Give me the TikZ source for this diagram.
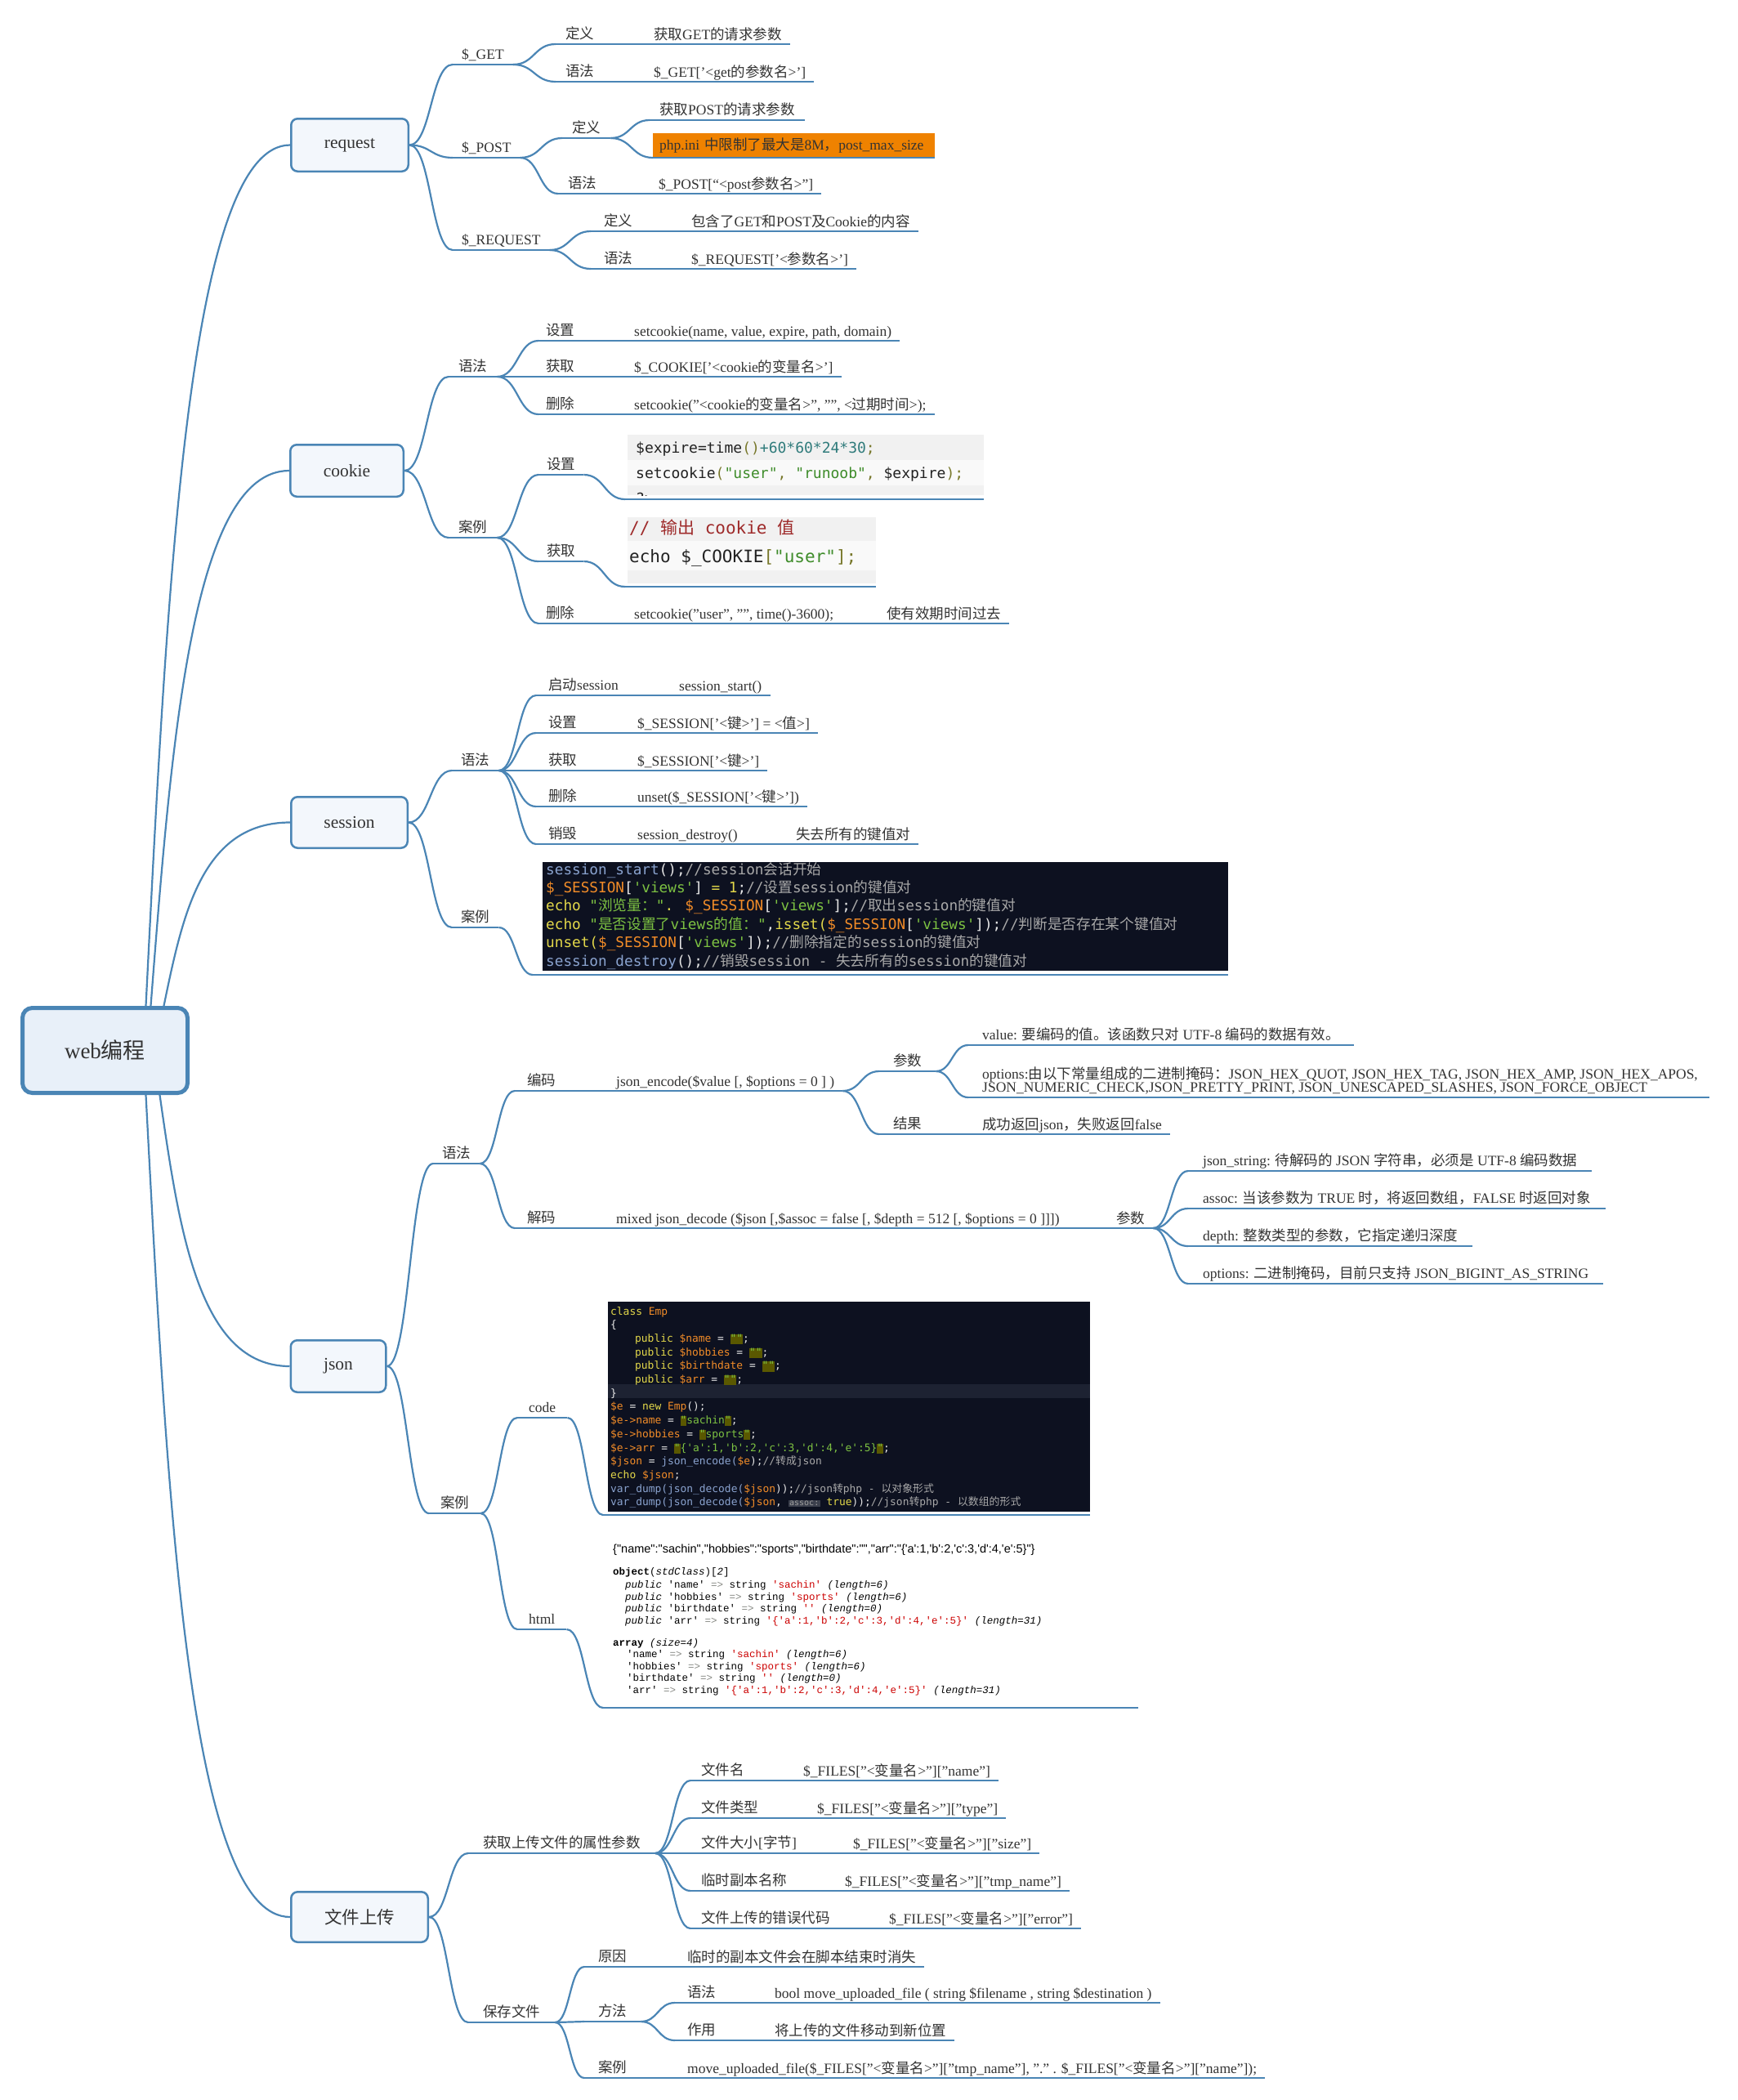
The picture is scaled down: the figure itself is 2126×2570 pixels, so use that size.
\documentclass[tikz,border=0pt]{standalone}
\usepackage{fontspec}
\setmainfont{Liberation Serif}
\newfontfamily\cjkfont{Noto Sans CJK SC}
\newfontfamily\codefont{DejaVu Sans Mono}
\newfontfamily\htmlmono{Liberation Mono}
\newfontfamily\htmlsans{Liberation Sans}
\usetikzlibrary{calc}
\pgfdeclarelayer{bg}
\pgfsetlayers{bg,main}
\makeatletter
\XeTeXinterchartokenstate=1
\newXeTeXintercharclass\mmcjkclass
\count@="3000 \loop\ifnum\count@<"3040 \XeTeXcharclass\count@=\mmcjkclass \advance\count@ 1 \repeat
\count@="4E00 \loop\ifnum\count@<"A000 \XeTeXcharclass\count@=\mmcjkclass \advance\count@ 1 \repeat
\count@="FF00 \loop\ifnum\count@<"FFF0 \XeTeXcharclass\count@=\mmcjkclass \advance\count@ 1 \repeat
\XeTeXcharclass"201C=0 \XeTeXcharclass"201D=0 \XeTeXcharclass"2018=0 \XeTeXcharclass"2019=0
\XeTeXinterchartoks 0 \mmcjkclass={\begingroup\cjkfont}
\XeTeXinterchartoks 4095 \mmcjkclass={\begingroup\cjkfont}
\XeTeXinterchartoks \mmcjkclass 0={\endgroup}
\XeTeXinterchartoks \mmcjkclass 4095={\endgroup}
\makeatother
\definecolor{ln}{HTML}{4A85B5}
\definecolor{tx}{HTML}{333333}
\definecolor{boxf}{HTML}{F3F7FC}
\definecolor{rootf}{HTML}{E8F0F9}
\definecolor{orangeF}{HTML}{EF8200}
\definecolor{cband}{HTML}{F1F1F1}
\definecolor{cfill}{HTML}{F9F9F9}
\definecolor{cblack}{HTML}{222222}
\definecolor{colive}{HTML}{77772A}
\definecolor{cteal}{HTML}{2F7B7B}
\definecolor{cgreen}{HTML}{3E8C2A}
\definecolor{cred}{HTML}{9E2A2A}
\definecolor{sbg}{HTML}{0D1120}
\definecolor{sband}{HTML}{1D2232}
\definecolor{sblue}{HTML}{8AA3CF}
\definecolor{swhite}{HTML}{E6E6E6}
\definecolor{sgray}{HTML}{A8A8A8}
\definecolor{sorange}{HTML}{F28C28}
\definecolor{sgreen}{HTML}{7DC242}
\definecolor{syellow}{HTML}{E3D84A}
\definecolor{jolive}{HTML}{5A5800}
\definecolor{pillbg}{HTML}{3B3F4C}
\definecolor{pilltx}{HTML}{A0A0A0}
\definecolor{hred}{HTML}{CC0000}
\definecolor{hgray}{HTML}{888A85}
\newcommand\mmlblfont{\fontsize{17.5}{21}\selectfont}
\newcommand\mmboxfont{\fontsize{21.5}{24}\selectfont}
\newcommand\cBl[1]{\textcolor{sblue}{#1}}
\newcommand\cWh[1]{\textcolor{swhite}{#1}}
\newcommand\cGy[1]{\textcolor{sgray}{#1}}
\newcommand\cOr[1]{\textcolor{sorange}{#1}}
\newcommand\cGn[1]{\textcolor{sgreen}{#1}}
\newcommand\cYe[1]{\textcolor{syellow}{#1}}
\newcommand\hlq[1]{{\setlength{\fboxsep}{0pt}\colorbox{jolive}{\vphantom{Ag}\textcolor{sgreen}{#1}}}}
\newcommand\pill[1]{{\setlength{\fboxsep}{1.5pt}\colorbox{pillbg}{\fontsize{10}{10}\selectfont\textcolor{pilltx}{#1}}}}
\tikzset{
  ul/.style={draw=ln, line width=2.2pt},
  conn/.style={draw=ln, line width=2.2pt},
  lab/.style={anchor=south west, inner ysep=6pt, text depth=0pt, font=\mmlblfont, text=tx},
  val/.style={anchor=base west, inner sep=0pt, font=\mmlblfont, text=tx},
  l1box/.style={draw=ln, line width=2.5pt, fill=boxf, rounded corners=8pt, font=\mmboxfont, text=tx, inner sep=0pt},
  rootbox/.style={draw=ln, line width=5pt, fill=rootf, rounded corners=12pt, font=\fontsize{27}{27}\selectfont, text=tx, inner sep=0pt, minimum width=202, minimum height=104},
  cbox/.style={anchor=north west, inner sep=0pt},
  cline/.style={anchor=base west, inner sep=0pt},
  sc/.style={to path={let \p1=(\tikztostart), \p2=(\tikztotarget) in
     .. controls ({0.5*(\x1+\x2)},\y1) and ({0.5*(\x1+\x2)},\y2) .. (\tikztotarget)}},
  rc/.style={to path={let \p1=(\tikztostart), \p2=(\tikztotarget) in
     .. controls ({\x1+0.15*(\x2-\x1)},{\y1+0.5*(\y2-\y1)}) and ({\x1+0.3*(\x2-\x1)},\y2) .. (\tikztotarget)}},
}
% label with its own underline
\newcommand\mmlab[5][11]{%
  \node[lab, inner xsep=#1pt] (#2) at (#3,#4) {#5};
  \coordinate (#2-e) at (#2.south east);
  \draw[ul] (#2.south west) -- (#2-e);}
% label + value on one underline
\newcommand\mmrow[7][11]{%
  \node[lab, inner xsep=#1pt] (#2) at (#3,#4) {#5};
  \node[val] (#2-v) at (#6,#4-6) {#7};
  \coordinate (#2-e) at ($(#2-v.base east)+(10,6)$);
  \draw[ul] (#2.south west) -- (#2-e);}
% third part on the same underline
\newcommand\mmext[4]{%
  \node[val] (#1-w) at (#2,#3-6) {#4};
  \coordinate (#1-f) at ($(#1-w.base east)+(10,6)$);
  \draw[ul] (#1-e) -- (#1-f);}
\begin{document}
\begin{tikzpicture}[x=1pt,y=-1pt]
\useasboundingbox (0,0) rectangle (2126,2570);
\begin{pgfonlayer}{bg}\fill[white] (0,0) rectangle (2126,2570);\end{pgfonlayer}

% ---------- main boxes
\node[rootbox] (root) at (128.5,1285.5) {web编程};
\node[l1box, minimum width=143.5, minimum height=64.5] (req) at (428,177.5) {request};
\node[l1box, minimum width=138.5, minimum height=63.5] (cookie) at (424.5,576) {cookie};
\node[l1box, minimum width=142.5, minimum height=62.5] (session) at (427.5,1006.5) {session};
\node[l1box, minimum width=116.5, minimum height=63.5] (json) at (414,1672) {json};
\node[l1box, minimum width=167.5, minimum height=61.5] (upload) at (440,2346) {文件上传};

% ---------- request
\mmlab{get}{554}{79}{\$\_GET}
\mmrow[12]{getd}{680}{54}{定义}{800}{获取GET的请求参数}
\mmrow[12]{gets}{680}{100}{语法}{800}{\$\_GET['<get的参数名>']}
\mmlab{post}{554}{193}{\$\_POST}
\mmlab[12]{postd}{688}{169}{定义}
\mmlab[12]{postda}{795}{147}{获取POST的请求参数}
\node[anchor=south west, fill=orangeF, text width=329pt, align=left, minimum height=30, inner xsep=8pt, inner ysep=0pt, font=\mmlblfont, text=tx] (php) at (799,193) {php.ini 中限制了最大是8M，post\_max\_size};
\draw[ul] (php.south west) -- (php.south east);
\mmrow[12]{posts}{683}{237}{语法}{806}{\$\_POST[“<post参数名>”]}
\mmlab{reqs}{554}{306}{\$\_REQUEST}
\mmrow[16]{reqsd}{723}{283}{定义}{846}{包含了GET和POST及Cookie的内容}
\mmrow[16]{reqss}{723}{329}{语法}{846}{\$\_REQUEST['<参数名>']}

% ---------- cookie
\mmlab[12]{cks}{549}{461}{语法}
\mmrow[9]{ckset}{659}{417}{设置}{776}{setcookie(name, value, expire, path, domain)}
\mmrow[9]{ckget}{659}{461}{获取}{776}{\$\_COOKIE['<cookie的变量名>']}
\mmrow[9]{ckdel}{659}{507}{删除}{776}{setcookie("<cookie的变量名>", "", <过期时间>);}
\mmlab[12]{ckx}{549}{658}{案例}
\mmlab[10]{ckxs}{659}{581}{设置}
\mmlab[10]{ckxg}{659}{687}{获取}
\mmrow[9]{ckxd}{659}{763}{删除}{776}{setcookie("user", "", time()-3600);}
\mmext{ckxd}{1085}{763}{使有效期时间过去}

% cookie code 1
\node[cbox, fill=cfill, minimum width=436, minimum height=74] (cd1) at (768,532) {};
\fill[cband] (cd1.north west) rectangle ($(cd1.north east)+(0,31)$);
\fill[cband] ($(cd1.south west)+(0,-12)$) rectangle (cd1.south east);
\node[cline, font=\codefont\fontsize{18}{18}\selectfont] (cd1a) at (778,554) {\textcolor{cblack}{\$expire=time}\textcolor{colive}{()}\textcolor{cteal}{+60*60*24*30}\textcolor{colive}{;}};
\node[cline, font=\codefont\fontsize{18}{18}\selectfont] (cd1b) at (778,585) {\textcolor{cblack}{setcookie}\textcolor{colive}{(}\textcolor{cgreen}{"user"}\textcolor{colive}{, }\textcolor{cgreen}{"runoob"}\textcolor{colive}{, }\textcolor{cblack}{\$expire}\textcolor{colive}{);}};
\begin{scope}
\clip ($(cd1.south west)+(0,-12)$) rectangle (cd1.south east);
\node[cline, font=\codefont\fontsize{18}{18}\selectfont] (cd1c) at (778,616) {\textcolor{cblack}{?>}};
\end{scope}
\coordinate (cd1l) at (765,611);
\draw[ul] (cd1l) -- (cd1l -| cd1.east);

% cookie code 2
\node[cbox, fill=cfill, minimum width=304, minimum height=81] (cd2) at (768,633) {};
\fill[cband] (cd2.north west) rectangle ($(cd2.north east)+(0,29)$);
\fill[cband] ($(cd2.south west)+(0,-16)$) rectangle (cd2.south east);
\node[cline, font=\codefont\fontsize{21}{21}\selectfont] (cd2a) at (770,653) {\textcolor{cred}{// 输出 cookie 值}};
\node[cline, font=\codefont\fontsize{21}{21}\selectfont] (cd2b) at (770,688) {\textcolor{cblack}{echo \$\_COOKIE}\textcolor{colive}{[}\textcolor{cgreen}{"user"}\textcolor{colive}{];}};
\coordinate (cd2l) at (765,718);
\draw[ul] (cd2l) -- (cd2l -| cd2.east);

% ---------- session
\mmlab{sss}{553}{943}{语法}
\mmrow[15]{ss1}{656}{851}{启动session}{831}{session\_start()}
\mmrow[15]{ss2}{656}{897}{设置}{780}{\$\_SESSION['<键>'] = <值>]}
\mmrow[15]{ss3}{656}{943}{获取}{780}{\$\_SESSION['<键>']}
\mmrow[15]{ss4}{656}{987}{删除}{780}{unset(\$\_SESSION['<键>'])}
\mmrow[15]{ss5}{656}{1033}{销毁}{780}{session\_destroy()}
\mmext{ss5}{974}{1033}{失去所有的键值对}
\mmlab{ssx}{553}{1135}{案例}

\node[cbox, fill=sbg, minimum width=839, minimum height=133] (cd3) at (664,1055) {};
\tikzset{scode/.style={cline, font=\codefont\fontsize{17.7}{17.7}\selectfont}}
\node[scode] (s1) at (668,1070) {\cBl{session\_start}\cWh{();}\cGy{//session会话开始}};
\node[scode] (s2) at (668,1092.4) {\cOr{\$\_SESSION}\cWh{[}\cGn{'views'}\cWh{] }\cYe{= 1}\cWh{;}\cGy{//设置session的键值对}};
\node[scode] (s3) at (668,1114.8) {\cYe{echo }\cGn{"浏览量："}\cYe{ . }\cOr{\$\_SESSION}\cWh{[}\cGn{'views'}\cWh{];}\cGy{//取出session的键值对}};
\node[scode] (s4) at (668,1137.2) {\cYe{echo }\cGn{"是否设置了views的值："}\cWh{,}\cYe{isset(}\cOr{\$\_SESSION}\cWh{[}\cGn{'views'}\cWh{]);}\cGy{//判断是否存在某个键值对}};
\node[scode] (s5) at (668,1159.6) {\cYe{unset(}\cOr{\$\_SESSION}\cWh{[}\cGn{'views'}\cWh{]);}\cGy{//删除指定的session的键值对}};
\node[scode] (s6) at (668,1182) {\cBl{session\_destroy}\cWh{();}\cGy{//销毁session - 失去所有的session的键值对}};
\coordinate (cd3l) at (652,1193);
\draw[ul] (cd3l) -- (cd3l -| cd3.east);

% ---------- json
\mmlab{jss}{530}{1424}{语法}
\mmrow[15]{jse}{630}{1335}{编码}{754}{json\_encode(\$value [, \$options = 0 ] )}
\mmlab[17]{jsep}{1076}{1311}{参数}
\mmlab[17]{jsev}{1185}{1279}{value: 要编码的值。该函数只对 UTF-8 编码的数据有效。}
\node[val] (jseo1) at (1202,1320) {options:由以下常量组成的二进制掩码：JSON\_HEX\_QUOT, JSON\_HEX\_TAG, JSON\_HEX\_AMP, JSON\_HEX\_APOS,};
\node[lab, inner xsep=17pt] (jseo) at (1185,1343) {JSON\_NUMERIC\_CHECK,JSON\_PRETTY\_PRINT, JSON\_UNESCAPED\_SLASHES, JSON\_FORCE\_OBJECT};
\coordinate (jseo-e) at ($(jseo1.base east)+(14,23)$);
\draw[ul] (jseo.south west) -- (jseo-e);
\mmrow[17]{jser}{1076}{1388}{结果}{1202}{成功返回json，失败返回false}
\mmrow[15]{jsd}{630}{1503}{解码}{754}{mixed json\_decode (\$json [,\$assoc = false [, \$depth = 512 [, \$options = 0 ]]])}
\mmext{jsd}{1366}{1503}{参数}
\mmlab[18]{jsd1}{1454}{1433}{json\_string: 待解码的 JSON 字符串，必须是 UTF-8 编码数据}
\mmlab[18]{jsd2}{1454}{1479}{assoc: 当该参数为 TRUE 时，将返回数组，FALSE 时返回对象}
\mmlab[18]{jsd3}{1454}{1525}{depth: 整数类型的参数，它指定递归深度}
\mmlab[18]{jsd4}{1454}{1571}{options: 二进制掩码，目前只支持 JSON\_BIGINT\_AS\_STRING}
\mmlab[14]{jsx}{525}{1852}{案例}
\mmlab[14]{jsxc}{633}{1735}{code}
\mmlab[14]{jsxh}{633}{1994}{html}

% json code
\node[cbox, fill=sbg, minimum width=590, minimum height=257] (cd4) at (744,1593) {};
\fill[sband] (744,1694) rectangle (1334,1711);
\tikzset{jcode/.style={cline, font=\codefont\fontsize{12.9}{12.9}\selectfont}}
\node[jcode] (j1) at (747,1609) {\cYe{class} \cOr{Emp}};
\node[jcode] (j2) at (747,1625.7) {\cWh{\{}};
\node[jcode] (j3) at (777,1642.4) {\cYe{public} \cOr{\$name} \cWh{=} \hlq{""}\cWh{;}};
\node[jcode] (j4) at (777,1659.1) {\cYe{public} \cOr{\$hobbies} \cWh{=} \hlq{""}\cWh{;}};
\node[jcode] (j5) at (777,1675.8) {\cYe{public} \cOr{\$birthdate} \cWh{=} \hlq{""}\cWh{;}};
\node[jcode] (j6) at (777,1692.5) {\cYe{public} \cOr{\$arr} \cWh{=} \hlq{""}\cWh{;}};
\node[jcode] (j7) at (747,1709.2) {\cWh{\}}};
\node[jcode] (j8) at (747,1725.9) {\cOr{\$e} \cWh{=} \cYe{new} \cOr{Emp}\cWh{();}};
\node[jcode] (j9) at (747,1742.6) {\cOr{\$e->name} \cWh{=} \hlq{"}\cGn{sachin}\hlq{"}\cWh{;}};
\node[jcode] (j10) at (747,1759.3) {\cOr{\$e->hobbies} \cWh{=} \hlq{"}\cGn{sports}\hlq{"}\cWh{;}};
\node[jcode] (j11) at (747,1776) {\cOr{\$e->arr} \cWh{=} \hlq{"}\cGn{\{'a':1,'b':2,'c':3,'d':4,'e':5\}}\hlq{"}\cWh{;}};
\node[jcode] (j12) at (747,1792.7) {\cOr{\$json} \cWh{=} \cBl{json\_encode(}\cOr{\$e}\cWh{);}\cGy{//转成json}};
\node[jcode] (j13) at (747,1809.4) {\cYe{echo} \cOr{\$json}\cWh{;}};
\node[jcode] (j14) at (747,1826.1) {\cBl{var\_dump(json\_decode(}\cOr{\$json}\cWh{));}\cGy{//json转php - 以对象形式}};
\node[jcode] (j15) at (747,1842.8) {\cBl{var\_dump(json\_decode(}\cOr{\$json}\cWh{,} \pill{assoc:} \cYe{true}\cWh{));}\cGy{//json转php - 以数组的形式}};
\coordinate (cd4l) at (738,1854);
\draw[ul] (cd4l) -- (cd4l -| cd4.east);

% json html output
\node[cline, font=\htmlsans\fontsize{14.5}{14.5}\selectfont, text=black] (h0) at (750,1900) {\{"name":"sachin","hobbies":"sports","birthdate":"","arr":"\{'a':1,'b':2,'c':3,'d':4,'e':5\}"\}};
\tikzset{hcode/.style={cline, font=\htmlmono\fontsize{12.5}{12.5}\selectfont, text=black}}
\node[hcode] (h1) at (750,1927) {\textbf{object}(\textit{stdClass})[\textit{2}]};
\node[hcode] (h2) at (765,1943) {\textit{public} 'name' \textcolor{hgray}{=>} string \textcolor{hred}{'sachin'} \textit{(length=6)}};
\node[hcode] (h3) at (765,1958) {\textit{public} 'hobbies' \textcolor{hgray}{=>} string \textcolor{hred}{'sports'} \textit{(length=6)}};
\node[hcode] (h4) at (765,1972) {\textit{public} 'birthdate' \textcolor{hgray}{=>} string \textcolor{hred}{''} \textit{(length=0)}};
\node[hcode] (h5) at (765,1987) {\textit{public} 'arr' \textcolor{hgray}{=>} string \textcolor{hred}{'\{'a':1,'b':2,'c':3,'d':4,'e':5\}'} \textit{(length=31)}};
\node[hcode] (h6) at (750,2014) {\textbf{array} \textit{(size=4)}};
\node[hcode] (h7) at (767,2028) {'name' \textcolor{hgray}{=>} string \textcolor{hred}{'sachin'} \textit{(length=6)}};
\node[hcode] (h8) at (767,2043) {'hobbies' \textcolor{hgray}{=>} string \textcolor{hred}{'sports'} \textit{(length=6)}};
\node[hcode] (h9) at (767,2057) {'birthdate' \textcolor{hgray}{=>} string \textcolor{hred}{''} \textit{(length=0)}};
\node[hcode] (h10) at (767,2072) {'arr' \textcolor{hgray}{=>} string \textcolor{hred}{'\{'a':1,'b':2,'c':3,'d':4,'e':5\}'} \textit{(length=31)}};
\coordinate (htmll) at (738,2090);
\coordinate (htmlr) at (1393,2090);
\draw[ul] (htmll) -- (htmlr);

% ---------- file upload
\mmlab[18]{upa}{573}{2268}{获取上传文件的属性参数}
\mmrow[13]{up1}{845}{2179}{文件名}{983}{\$\_FILES["<变量名>"]["name"]}
\mmrow[13]{up2}{845}{2225}{文件类型}{1000}{\$\_FILES["<变量名>"]["type"]}
\mmrow[13]{up3}{845}{2268}{文件大小[字节]}{1044}{\$\_FILES["<变量名>"]["size"]}
\mmrow[13]{up4}{845}{2314}{临时副本名称}{1034}{\$\_FILES["<变量名>"]["tmp\_name"]}
\mmrow[13]{up5}{845}{2360}{文件上传的错误代码}{1088}{\$\_FILES["<变量名>"]["error"]}
\mmlab[18]{ups}{573}{2475}{保存文件}
\mmrow[17]{upw}{715}{2407}{原因}{841}{临时的副本文件会在脚本结束时消失}
\mmlab[17]{uph}{715}{2474}{方法}
\mmrow[15]{uphs}{826}{2451}{语法}{948}{bool move\_uploaded\_file ( string \$filename , string \$destination )}
\mmrow[15]{uphu}{826}{2497}{作用}{948}{将上传的文件移动到新位置}
\mmrow[17]{upx}{715}{2543}{案例}{841}{move\_uploaded\_file(\$\_FILES["<变量名>"]["tmp\_name"], "." . \$\_FILES["<变量名>"]["name"]);}

% ---------- connectors
\begin{pgfonlayer}{bg}
\draw[conn,rc] ([xshift=50pt]root.north) to (req.west);
\draw[conn,rc] ([xshift=56pt]root.north) to (cookie.west);
\draw[conn,rc] ([xshift=72pt]root.north) to (session.west);
\draw[conn,rc] ([xshift=67pt]root.south) to (json.west);
\draw[conn,rc] ([xshift=50pt]root.south) to (upload.west);
% request
\draw[conn,sc] (req.east) to (get.south west);
\draw[conn,sc] (req.east) to (post.south west);
\draw[conn,sc] (req.east) to (reqs.south west);
\draw[conn,sc] (get-e) to (getd.south west);
\draw[conn,sc] (get-e) to (gets.south west);
\draw[conn,sc] (post-e) to (postd.south west);
\draw[conn,sc] (post-e) to (posts.south west);
\draw[conn,sc] (postd-e) to (postda.south west);
\draw[conn,sc] (postd-e) to (php.south west);
\draw[conn,sc] (reqs-e) to (reqsd.south west);
\draw[conn,sc] (reqs-e) to (reqss.south west);
% cookie
\draw[conn,sc] (cookie.east) to (cks.south west);
\draw[conn,sc] (cookie.east) to (ckx.south west);
\draw[conn,sc] (cks-e) to (ckset.south west);
\draw[conn,sc] (cks-e) to (ckget.south west);
\draw[conn,sc] (cks-e) to (ckdel.south west);
\draw[conn,sc] (ckx-e) to (ckxs.south west);
\draw[conn,sc] (ckx-e) to (ckxg.south west);
\draw[conn,sc] (ckx-e) to (ckxd.south west);
\draw[conn,sc] (ckxs-e) to (cd1l);
\draw[conn,sc] (ckxg-e) to (cd2l);
% session
\draw[conn,sc] (session.east) to (sss.south west);
\draw[conn,sc] (session.east) to (ssx.south west);
\draw[conn,sc] (sss-e) to (ss1.south west);
\draw[conn,sc] (sss-e) to (ss2.south west);
\draw[conn,sc] (sss-e) to (ss3.south west);
\draw[conn,sc] (sss-e) to (ss4.south west);
\draw[conn,sc] (sss-e) to (ss5.south west);
\draw[conn,sc] (ssx-e) to (cd3l);
% json
\draw[conn,sc] (json.east) to (jss.south west);
\draw[conn,sc] (json.east) to (jsx.south west);
\draw[conn,sc] (jss-e) to (jse.south west);
\draw[conn,sc] (jss-e) to (jsd.south west);
\draw[conn,sc] (jse-e) to (jsep.south west);
\draw[conn,sc] (jse-e) to (jser.south west);
\draw[conn,sc] (jsep-e) to (jsev.south west);
\draw[conn,sc] (jsep-e) to (jseo.south west);
\draw[conn,sc] (jsd-f) to (jsd1.south west);
\draw[conn,sc] (jsd-f) to (jsd2.south west);
\draw[conn,sc] (jsd-f) to (jsd3.south west);
\draw[conn,sc] (jsd-f) to (jsd4.south west);
\draw[conn,sc] (jsx-e) to (jsxc.south west);
\draw[conn,sc] (jsx-e) to (jsxh.south west);
\draw[conn,sc] (jsxc-e) to (cd4l);
\draw[conn,sc] (jsxh-e) to (htmll);
% upload
\draw[conn,sc] (upload.east) to (upa.south west);
\draw[conn,sc] (upload.east) to (ups.south west);
\draw[conn,sc] (upa-e) to (up1.south west);
\draw[conn,sc] (upa-e) to (up2.south west);
\draw[conn,sc] (upa-e) to (up3.south west);
\draw[conn,sc] (upa-e) to (up4.south west);
\draw[conn,sc] (upa-e) to (up5.south west);
\draw[conn,sc] (ups-e) to (upw.south west);
\draw[conn,sc] (ups-e) to (uph.south west);
\draw[conn,sc] (ups-e) to (upx.south west);
\draw[conn,sc] (uph-e) to (uphs.south west);
\draw[conn,sc] (uph-e) to (uphu.south west);
\end{pgfonlayer}
\end{tikzpicture}
\end{document}
